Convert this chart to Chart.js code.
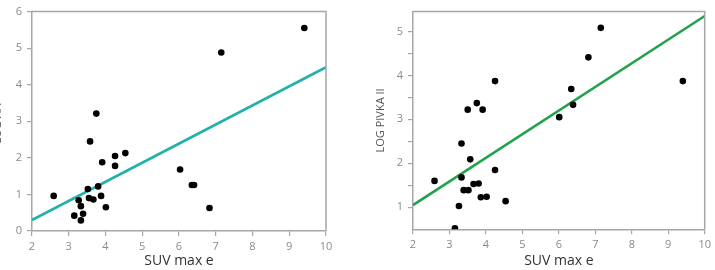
<!DOCTYPE html>
<html>
<head>
<meta charset="utf-8">
<script src="https://cdn.jsdelivr.net/npm/chart.js@4/dist/chart.umd.min.js"></script>
<style>
  html, body { margin: 0; padding: 0; background: #fff; overflow: hidden; }
  body { width: 715px; height: 270px; position: relative; }
  .wrap { position: absolute; top: 0; }
  canvas { display: block; }
</style>
</head>
<body>
<div class="wrap" id="w1" style="left:-13px;width:353px;height:270px;"><canvas id="c1" width="353" height="270"></canvas></div>
<div class="wrap" id="w2" style="left:370px;width:345px;height:270px;"><canvas id="c2" width="345" height="270"></canvas></div>
<script>
// ---- Data ----
const xTitle = "SUV max e";
const afpTitle = "LOG AFP";
const pivkaTitle = "LOG PIVKA II";

const afpSuv = [2.59, 3.15, 3.27, 3.33, 3.33, 3.39, 3.52, 3.55, 3.67, 3.58, 3.75, 3.80, 3.88, 3.91, 4.01, 4.26, 4.26, 4.54, 6.03, 6.35, 6.41, 6.83, 7.15, 9.41];
const afpLog = [0.96, 0.42, 0.84, 0.68, 0.29, 0.47, 1.15, 0.90, 0.86, 2.45, 3.21, 1.22, 0.96, 1.88, 0.65, 2.05, 1.78, 2.13, 1.68, 1.26, 1.26, 0.63, 4.88, 5.55];
const afpFitX = [2, 10];
const afpFitY = [0.30, 4.48];

const pivkaSuv = [2.59, 3.15, 3.26, 3.33, 3.33, 3.39, 3.50, 3.52, 3.57, 3.66, 3.75, 3.80, 3.86, 3.91, 4.02, 4.25, 4.25, 4.54, 6.01, 6.34, 6.39, 6.81, 7.15, 9.40];
const pivkaLog = [1.60, 0.52, 1.03, 2.45, 1.68, 1.39, 3.22, 1.39, 2.09, 1.53, 3.37, 1.54, 1.23, 3.22, 1.24, 3.87, 1.85, 1.14, 3.05, 3.69, 3.33, 4.41, 5.08, 3.87];
const pivkaFitX = [2, 10];
const pivkaFitY = [1.05, 5.35];

const xTicks = [2, 3, 4, 5, 6, 7, 8, 9, 10];
const afpTicks = [0, 1, 2, 3, 4, 5, 6];
const pivkaTicks = [1, 2, 3, 4, 5];
const pivkaMinorTicks = [1, 1.5, 2, 2.5, 3, 3.5, 4, 4.5, 5];

// ---- helpers ----
const pts = (xs, ys) => xs.map((x, i) => ({ x: x, y: ys[i] }));
const AXIS = '#a6a6a6';
const TICKTXT = '#8a8a8a';

const boxPlugin = {
  id: 'plotbox',
  afterDraw(chart) {
    const a = chart.chartArea;
    const ctx = chart.ctx;
    ctx.save();
    ctx.strokeStyle = AXIS;
    ctx.lineWidth = 1.5;
    ctx.beginPath();
    ctx.moveTo(a.left, a.top);
    ctx.lineTo(a.right, a.top);
    ctx.lineTo(a.right, a.bottom);
    ctx.stroke();
    ctx.restore();
  }
};

function makeChart(id, opts) {
  return new Chart(document.getElementById(id), {
    type: 'scatter',
    data: {
      datasets: [
        {
          data: pts(opts.xs, opts.ys),
          backgroundColor: '#000',
          borderColor: '#000',
          pointRadius: 3.3,
          pointBorderWidth: 0,
          showLine: false
        },
        {
          data: pts(opts.fitX, opts.fitY),
          showLine: true,
          borderColor: opts.lineColor,
          borderWidth: 2.6,
          pointRadius: 0,
          fill: false
        }
      ]
    },
    options: {
      responsive: false,
      animation: false,
      devicePixelRatio: 1,
      layout: { padding: opts.padding },
      plugins: { legend: { display: false }, tooltip: { enabled: false } },
      scales: {
        x: {
          type: 'linear',
          min: 2, max: 10,
          afterBuildTicks: s => { s.ticks = xTicks.map(v => ({ value: v })); },
          afterFit: s => { s.height = opts.xH; },
          grid: { drawOnChartArea: false, drawTicks: true, tickLength: 5, color: AXIS, lineWidth: 1.2 },
          border: { display: true, color: AXIS, width: 1.5 },
          ticks: { color: TICKTXT, padding: 4, font: { family: 'Open Sans', size: 11 }, maxRotation: 0 },
          title: { display: true, text: xTitle, color: '#333', font: { family: 'Open Sans', size: 14 }, padding: { top: 0, bottom: 1 } }
        },
        y: {
          type: 'linear',
          min: opts.yMin, max: opts.yMax,
          afterBuildTicks: s => { s.ticks = opts.yAllTicks.map(v => ({ value: v })); },
          afterFit: s => { s.width = opts.yW; },
          grid: { drawOnChartArea: false, drawTicks: true, tickLength: 5, color: AXIS, lineWidth: 1.2 },
          border: { display: true, color: AXIS, width: 1.5 },
          ticks: {
            color: TICKTXT, padding: 5, font: { family: 'Open Sans', size: 11 },
            callback: v => (opts.yTicks.includes(v) ? String(v) : '')
          },
          title: { display: true, text: opts.yTitle, color: '#555', font: { family: 'Open Sans', size: 11 }, padding: { top: 4, bottom: 0 } }
        }
      }
    },
    plugins: [boxPlugin]
  });
}

makeChart('c1', {
  xs: afpSuv, ys: afpLog, fitX: afpFitX, fitY: afpFitY,
  lineColor: '#1fb1aa',
  yMin: 0, yMax: 6,
  yTicks: afpTicks, yAllTicks: afpTicks,
  yTitle: afpTitle,
  yW: 45, xH: 39,
  padding: { top: 11, right: 14, left: 0, bottom: 0 }
});

makeChart('c2', {
  xs: pivkaSuv, ys: pivkaLog, fitX: pivkaFitX, fitY: pivkaFitY,
  lineColor: '#21a24c',
  yMin: 0.5, yMax: 5.45,
  yTicks: pivkaTicks, yAllTicks: pivkaMinorTicks,
  yTitle: pivkaTitle,
  yW: 43, xH: 40.7,
  padding: { top: 10, right: 8, left: 0, bottom: 0 }
});
</script>
</body>
</html>
